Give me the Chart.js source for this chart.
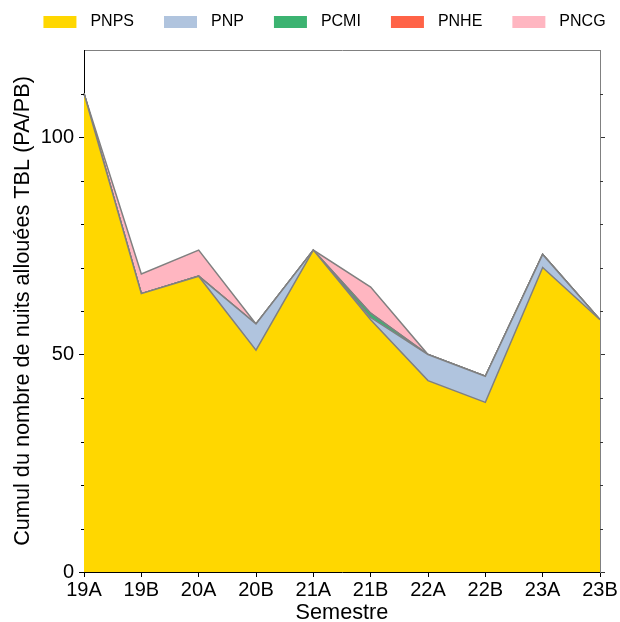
<!DOCTYPE html>
<html><head><meta charset="utf-8">
<script src="https://cdn.jsdelivr.net/npm/chart.js@4"></script>
<style>html,body{margin:0;padding:0;background:#fff}</style>
</head><body>
<canvas id="c" width="620" height="622"></canvas>
<script>
const semesters = ['19A','19B','20A','20B','21A','21B','22A','22B','23A','23B'];
const seriesNames = ['PNPS','PNP','PCMI','PNHE','PNCG'];
const pnps = [110, 64, 68, 51, 74, 58, 44, 39, 70, 58];
const pnp  = [0, 0, 0, 6, 0, 0.5, 6, 6, 3, 0];
const pcmi = [0, 0, 0, 0, 0, 1, 0, 0, 0, 0];
const pnhe = [0, 0, 0, 0, 0, 0, 0, 0, 0, 0];
const pncg = [0, 4.5, 6, 0, 0, 6, 0, 0, 0, 0];
const seriesValues = [pnps, pnp, pcmi, pnhe, pncg];
const colors = ['#FFD700','#B0C4DE','#3CB371','#FF6347','#FFB6C1'];
const yMin = 0, yMax = 120, yMajorStep = 50, yMinorStep = 10;

const FONT = "'Liberation Sans', Arial, Helvetica, sans-serif";
const TICK_SIZE = 20, TITLE_SIZE = 21.7, LEGEND_SIZE = 16;
const SW_L = 29, SW_BOX = 33, SW_R = 6, SW_H = 12;
const TOP_PAD = 13;

function swatch(color){
  const c = document.createElement('canvas');
  c.width = SW_L + SW_BOX + SW_R; c.height = SW_H;
  const g = c.getContext('2d');
  g.fillStyle = color;
  g.fillRect(SW_L, 0, SW_BOX, SW_H);
  return c;
}
const swatches = colors.map(swatch);

const minorTicks = {
  id: 'minorTicks',
  afterDraw(chart){
    const y = chart.scales.y, a = chart.chartArea, ctx = chart.ctx;
    ctx.save();
    ctx.lineWidth = 1;
    for (let v = yMin + yMinorStep; v < yMax; v += yMinorStep){
      if (v % yMajorStep === 0) continue;
      const py = Math.round(y.getPixelForValue(v)) + 0.5;
      ctx.strokeStyle = '#000';
      ctx.beginPath(); ctx.moveTo(a.left - 3, py); ctx.lineTo(a.left, py); ctx.stroke();
      ctx.strokeStyle = '#333';
      ctx.beginPath(); ctx.moveTo(a.right, py); ctx.lineTo(a.right + 3, py); ctx.stroke();
    }
    ctx.restore();
  }
};

const keepMajors = s => { s.ticks = s.ticks.filter(t => t.value % yMajorStep === 0); };

const datasets = seriesNames.map((name, i) => ({
  label: name,
  data: seriesValues[i],
  backgroundColor: colors[i],
  borderColor: '#808080',
  borderWidth: 1.5,
  pointRadius: 0,
  pointHoverRadius: 0,
  tension: 0,
  fill: i === 0 ? 'origin' : '-1'
}));

new Chart(document.getElementById('c'), {
  type: 'line',
  data: { labels: semesters, datasets },
  plugins: [minorTicks],
  options: {
    responsive: false,
    animation: false,
    devicePixelRatio: 1,
    layout: { padding: { top: TOP_PAD, left: 0, right: 0, bottom: 0 } },
    plugins: {
      tooltip: { enabled: false },
      legend: {
        position: 'top',
        labels: {
          usePointStyle: true,
          pointStyleWidth: SW_L + SW_BOX + SW_R,
          boxHeight: SW_H,
          padding: 1,
          color: '#000',
          font: { family: FONT, size: LEGEND_SIZE },
          generateLabels(chart){
            const items = Chart.defaults.plugins.legend.labels.generateLabels(chart);
            items.forEach((it, i) => { it.pointStyle = swatches[i]; it.lineWidth = 0; });
            return items;
          }
        }
      }
    },
    scales: {
      x: {
        type: 'category',
        offset: false,
        z: 1,
        border: { display: true, color: '#000', width: 1 },
        grid: { display: true, drawOnChartArea: false, drawTicks: true, tickLength: 5, color: '#000' },
        ticks: { color: '#000', font: { family: FONT, size: TICK_SIZE }, padding: 1, maxRotation: 0, autoSkip: false },
        title: { display: true, text: 'Semestre', color: '#000', font: { family: FONT, size: TITLE_SIZE }, padding: { top: 0, bottom: -4 } },
        afterFit(s){ s.height = 50; }
      },
      x2: {
        type: 'category',
        position: 'top',
        offset: false,
        labels: semesters,
        border: { display: true, color: '#808080', width: 1 },
        grid: { display: false, drawOnChartArea: false, drawTicks: false },
        ticks: { display: false },
        afterFit(s){ const lg = s.chart.legend; s.height = Math.max(0, 50 - TOP_PAD - (lg ? lg.height : 0)); }
      },
      y: {
        type: 'linear',
        stacked: true,
        min: yMin, max: yMax,
        z: 1,
        border: { display: true, color: '#000', width: 1 },
        grid: { display: true, drawOnChartArea: false, drawTicks: true, tickLength: 5, color: '#000' },
        ticks: { stepSize: yMajorStep, color: '#000', font: { family: FONT, size: TICK_SIZE }, padding: 5 },
        afterBuildTicks: keepMajors,
        title: { display: true, text: 'Cumul du nombre de nuits allouées TBL (PA/PB)', color: '#000', font: { family: FONT, size: TITLE_SIZE }, padding: { top: 10, bottom: 0 } },
        afterFit(s){ s.width = 84; }
      },
      y2: {
        type: 'linear',
        position: 'right',
        min: yMin, max: yMax,
        z: 1,
        border: { display: true, color: '#808080', width: 1 },
        grid: { display: true, drawOnChartArea: false, drawTicks: true, tickLength: 5, color: '#333' },
        ticks: { stepSize: yMajorStep, callback: () => '', padding: 0 },
        afterBuildTicks: keepMajors,
        afterFit(s){ s.width = 20; }
      }
    }
  }
});
</script>
</body></html>
